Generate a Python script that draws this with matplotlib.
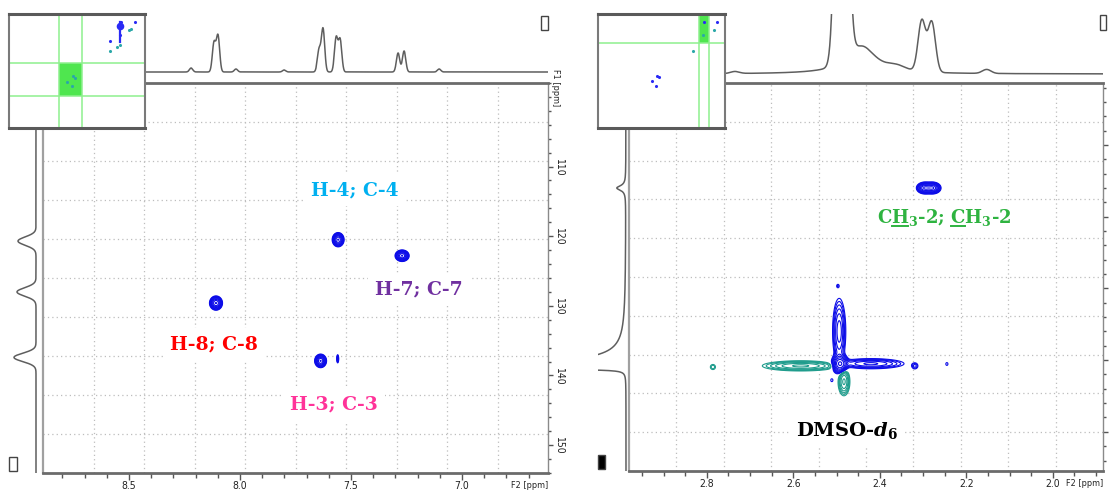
import numpy as np
import matplotlib
matplotlib.use('Agg')
import matplotlib.pyplot as plt
from matplotlib.patches import Rectangle
from matplotlib.lines import Line2D
from matplotlib.transforms import IdentityTransform
from matplotlib.ticker import MultipleLocator
from matplotlib import font_manager as fm

# ── Data: left panel (aromatic HSQC region) ──
left_f2_lim = (8.887, 6.613)
left_f1_lim = (154.0, 98.0)
left_f2_ticks = [8.5, 8.0, 7.5, 7.0]
left_f1_ticks = [110, 120, 130, 140, 150]

# cross peaks: 1H ppm, 13C ppm, amplitude, widths
arom_h = [7.558, 7.270, 8.108, 7.637, 7.560]
arom_c = [120.5, 122.8, 129.6, 137.9, 137.6]
arom_amp = [1.0, 1.0, 1.0, 1.0, 0.15]
arom_wh = [0.011, 0.013, 0.012, 0.011, 0.003]
arom_wc = [0.42, 0.34, 0.42, 0.40, 0.40]

arom_labels = ['H-4; C-4', 'H-7; C-7', 'H-8; C-8', 'H-3; C-3']
arom_label_h = [7.482, 7.193, 8.117, 7.576]
arom_label_c = [113.4, 127.7, 135.5, 144.2]
arom_label_colors = ['#00B0F0', '#7030A0', '#FF0000', '#FF3399']

# 1H trace above, 13C trace at the side
left_top_ppm = [8.117, 8.099, 7.644, 7.626, 7.567, 7.549, 7.288, 7.261, 8.220, 8.018, 7.801, 7.103]
left_top_int = [29, 36, 22, 43, 34, 32, 19, 21, 4, 3, 2, 3]
left_top_w = 0.0075
left_side_ppm = [120.7, 128.0, 137.4]
left_side_int = [18, 19, 22]
left_side_w = 0.6

# overview thumbnail
left_thumb_f2 = (13.84, 0.39)
left_thumb_f1 = (208.5, 14.7)
left_thumb_blue_h = [2.76, 1.38, 3.85, 2.86]
left_thumb_blue_c = [28.3, 28.3, 60.6, 50.4]
left_thumb_teal_h = [1.97, 1.77, 3.16, 2.86, 3.85]
left_thumb_teal_c = [41.9, 40.2, 70.8, 67.4, 77.6]
left_thumb_streak = (2.86, 28.3, 62.3)

# ── Data: right panel (aliphatic region) ──
right_f2_lim = (2.980, 1.884)
right_f1_lim = (47.73, 20.68)
right_f2_ticks = [2.8, 2.6, 2.4, 2.2, 2.0]
right_f1_ticks = [25, 30, 35, 40, 45]

ali_h = [2.296, 2.278, 2.492, 2.421, 2.494, 2.319, 2.245, 2.497, 2.511, 2.583, 2.483, 2.786]
ali_c = [28.0, 28.0, 40.27, 40.25, 38.0, 40.41, 40.27, 34.83, 41.4, 40.4, 41.5, 40.48]
ali_amp = [1, 1, 1, 0.35, 0.4, 0.12, 0.07, 0.07, 0.07, -0.35, -0.35, -0.1]
ali_wh = [0.008, 0.008, 0.0085, 0.039, 0.0075, 0.005, 0.003, 0.003, 0.003, 0.045, 0.007, 0.005]
ali_wc = [0.17, 0.17, 0.30, 0.18, 1.13, 0.15, 0.12, 0.12, 0.12, 0.18, 0.50, 0.15]

right_top_g_ppm = [2.488, 2.303, 2.280, 2.153, 2.735, 2.360]
right_top_g_int = [565, 51, 50, 4, 2, 4]
right_top_g_w = [0.0109, 0.0086, 0.0086, 0.01, 0.01, 0.02]
right_top_l_ppm = [2.442]
right_top_l_int = [28]
right_top_l_w = [0.0416]
right_side_ppm = [28.0, 40.6]
right_side_int = [9, 200]
right_side_w_lo = [0.2, 0.4]
right_side_w_hi = [0.2, 0.04]

right_thumb_f2 = (13.95, 0.15)
right_thumb_f1 = (127.2, 20.68)
right_thumb_blue_h = [1.02, 2.43, 7.53, 7.32, 8.08, 7.64]
right_thumb_blue_c = [28.2, 28.2, 78.6, 79.5, 83.3, 87.9]
right_thumb_teal_h = [1.35, 2.54, 3.63]
right_thumb_teal_c = [35.6, 40.3, 55.2]

# ── Style ──
BLUE = '#0C0CE8'
TEAL = '#1E9C8C'
GRID = '#BDBDBD'
TRACE = '#5E5E5E'
FRAME = '#6B6B6B'
GREEN_FILL = '#4FE64F'
GREEN_LINE = '#8EF08E'
ME_GREEN = '#2EB340'

# narrow sans axis font if one is installed
narrow = None
rank = ['liberationsansnarrow', 'dejavusanscondensed', 'robotocondensed', 'opensans_condensed']
best = len(rank)
for f in fm.fontManager.ttflist:
    n = f.fname.lower().replace('-', '').replace(' ', '')
    if any(k in n for k in ('bold', 'italic', 'light', 'oblique', 'thin', 'medium', 'semi', 'black')):
        continue
    for i, key in enumerate(rank):
        if key in n and i < best:
            best, narrow = i, f.fname
if narrow:
    TICKFP = fm.FontProperties(fname=narrow, size=7.5)
else:
    TICKFP = fm.FontProperties(family='Liberation Sans', size=7)
F2FP = TICKFP.copy()
F2FP.set_size(6.5)

plt.rcParams['mathtext.fontset'] = 'custom'
plt.rcParams['mathtext.rm'] = 'DejaVu Serif:bold'
plt.rcParams['mathtext.it'] = 'DejaVu Serif:italic:bold'
plt.rcParams['mathtext.bf'] = 'DejaVu Serif:bold'

W, H = 1111, 497
fig = plt.figure(figsize=(W / 100, H / 100), dpi=100)


def frac(x0, y0, x1, y1):
    return [x0 / W, 1 - y1 / H, (x1 - x0) / W, (y1 - y0) / H]


def trace(axis, centers, heights, w_lo, w_hi, kind):
    out = np.zeros_like(axis)
    for c, h, wl, wh in zip(centers, heights, w_lo, w_hi):
        w = np.where(axis < c, wl, wh)
        d = (axis - c) / w
        out += h * (np.exp(-0.5 * d ** 2) if kind == 'g' else 1 / (1 + d ** 2))
    return out


def plane(ax, xlim, ylim, hs, cs, amps, whs, wcs):
    x = np.linspace(min(xlim), max(xlim), 1100)
    y = np.linspace(min(ylim), max(ylim), 900)
    X, Y = np.meshgrid(x, y)
    Z = np.zeros_like(X)
    for h, c, a, wh, wc in zip(hs, cs, amps, whs, wcs):
        Z += a * np.exp(-0.5 * ((X - h) / wh) ** 2 - 0.5 * ((Y - c) / wc) ** 2)
    levels = 0.05 * 1.45 ** np.arange(9)
    ax.contour(X, Y, Z, levels=levels, colors=BLUE, linewidths=0.8, zorder=2)
    if (Z < -levels[0]).any():
        ax.contour(X, Y, -Z, levels=levels, colors=TEAL, linewidths=0.8, zorder=2)


def style_main(ax, xlim, ylim, xticks, xminor, yticks, yminor, ylabels):
    ax.set_xlim(xlim)
    ax.set_ylim(ylim)
    for f in np.arange(1, 10) / 10:
        ax.plot([f, f], [0, 1], transform=ax.transAxes, color=GRID, lw=0.9,
                ls=(0, (1, 2.5)), zorder=0)
        ax.plot([0, 1], [f, f], transform=ax.transAxes, color=GRID, lw=0.9,
                ls=(0, (1, 2.5)), zorder=0)
    ax.spines['top'].set(color=FRAME, lw=2)
    ax.spines['bottom'].set(color=FRAME, lw=2)
    ax.spines['left'].set(color='#A0A0A0', lw=1.6)
    ax.spines['right'].set(color='#8A8A8A', lw=1)
    ax.set_xticks(xticks, [f'{t:.1f}' for t in xticks], fontproperties=TICKFP, color='#222222')
    ax.xaxis.set_minor_locator(MultipleLocator(xminor))
    ax.tick_params(axis='x', which='major', direction='out', length=5, width=1, color='#555555', pad=0.5)
    ax.tick_params(axis='x', which='minor', direction='out', length=3.5, width=1, color='#555555')
    ax.yaxis.tick_right()
    if ylabels:
        ax.set_yticks(yticks, [str(t) for t in yticks], rotation=-90, va='center',
                      fontproperties=TICKFP, color='#222222')
    else:
        ax.set_yticks(yticks, [])
    ax.yaxis.set_minor_locator(MultipleLocator(yminor))
    ax.tick_params(axis='y', which='major', direction='out', length=3.5, width=1, color='#555555', pad=0.5)
    ax.tick_params(axis='y', which='minor', direction='out', length=2.2, width=1, color='#555555')
    ax.text(1.0, -0.031, 'F2 [ppm]', transform=ax.transAxes, ha='right', va='center',
            fontproperties=F2FP, color='#222222')


def thumb(ax, xlim, ylim, main_x, main_y, bh, bc, th, tc):
    ax.set_xlim(xlim)
    ax.set_ylim(ylim)
    ax.set_xticks([])
    ax.set_yticks([])
    for s in ax.spines.values():
        s.set(color='#7A7A7A', lw=1.5)
    ax.spines['top'].set(color='#5A5A5A', lw=2.2)
    ax.spines['bottom'].set(color='#5A5A5A', lw=2.2)
    ax.add_patch(Rectangle((min(main_x), min(main_y)), abs(main_x[1] - main_x[0]),
                           abs(main_y[1] - main_y[0]), fc=GREEN_FILL, ec='none', zorder=1))
    for v in main_x:
        ax.axvline(v, color=GREEN_LINE, lw=1.1, zorder=2)
    for v in main_y:
        ax.axhline(v, color=GREEN_LINE, lw=1.1, zorder=2)
    ax.scatter(bh, bc, s=5, color='#2A2AF5', lw=0, zorder=3)
    ax.scatter(th, tc, s=5, color='#2AA8A8', lw=0, zorder=3)


def icon(x0, y0, x1, y1, filled=False):
    fig.add_artist(Rectangle((x0 / W, 1 - y1 / H), (x1 - x0) / W, (y1 - y0) / H,
                             transform=fig.transFigure, fill=filled,
                             fc='black', ec='#444444', lw=1))


def underline(txt, parts, color):
    # parts: list of (prefix, chars) -> underline `chars` that follow `prefix`
    r = fig.canvas.get_renderer()
    prop = txt.get_fontproperties()

    def width(s):
        return r.get_text_width_height_descent(s, prop, ismath=('$' in s))[0]

    full = txt.get_text()
    bb = txt.get_window_extent(r)
    d = r.get_text_width_height_descent(full, prop, ismath=True)[2]
    y = bb.y0 + d - 2.5
    for prefix, ch in parts:
        x0 = bb.x0 + (width(prefix + 'C') - width('C') if prefix else 0)
        x1 = x0 + width(ch)
        fig.add_artist(Line2D([x0 + 0.5, x1 - 0.5], [y, y], transform=IdentityTransform(),
                              color=color, lw=1.4, zorder=5))


# ── Left panel ──
axL = fig.add_axes(frac(43, 83, 548, 473))
style_main(axL, left_f2_lim, left_f1_lim, left_f2_ticks, 0.1, left_f1_ticks, 2, True)
plane(axL, left_f2_lim, left_f1_lim, arom_h, arom_c, arom_amp, arom_wh, arom_wc)
axL.text(1.014, 98.7, 'F1 [ppm]', transform=axL.get_yaxis_transform(), rotation=-90,
         ha='center', va='center', fontproperties=F2FP, color='#222222', clip_on=False)
for s, h, c, col in zip(arom_labels, arom_label_h, arom_label_c, arom_label_colors):
    axL.text(h, c, s, color=col, fontsize=13.5, fontweight='bold', family='DejaVu Serif',
             ha='center', va='center', zorder=4,
             bbox=dict(facecolor='white', edgecolor='none', pad=5))

topL = fig.add_axes(frac(43, 0, 548, 83))
xs = np.linspace(min(left_f2_lim), max(left_f2_lim), 3000)
w = [left_top_w] * len(left_top_ppm)
topL.plot(xs, trace(xs, left_top_ppm, left_top_int, w, w, 'g'), color=TRACE, lw=1.1)
topL.set_xlim(left_f2_lim)
topL.set_ylim(-11, 72)
topL.axis('off')

sideL = fig.add_axes(frac(0, 83, 43, 473))
ys = np.linspace(min(left_f1_lim), max(left_f1_lim), 2000)
w = [left_side_w] * len(left_side_ppm)
sideL.plot(trace(ys, left_side_ppm, left_side_int, w, w, 'g'), ys, color=TRACE, lw=1.1)
sideL.set_ylim(left_f1_lim)
sideL.set_xlim(36, -7)
sideL.axis('off')

thL = fig.add_axes(frac(9, 14, 145, 128))
thumb(thL, left_thumb_f2, left_thumb_f1, left_f2_lim, left_f1_lim,
      left_thumb_blue_h, left_thumb_blue_c, left_thumb_teal_h, left_thumb_teal_c)
thL.scatter(arom_h[:4], arom_c[:4], s=5, color='#2AA8A8', lw=0, zorder=3)
thL.plot([left_thumb_streak[0]] * 2, left_thumb_streak[1:], color='#2A2AF5', lw=1.6, zorder=3)
thL.scatter([left_thumb_streak[0]], [left_thumb_streak[1] + 6], s=30, color='#2A2AF5', lw=0, zorder=3)

icon(541, 16, 548, 30)
icon(9, 457, 17, 471)

# ── Right panel ──
axR = fig.add_axes(frac(629, 83, 1103, 471))
style_main(axR, right_f2_lim, right_f1_lim, right_f2_ticks, 0.05, right_f1_ticks, 1, False)
plane(axR, right_f2_lim, right_f1_lim, ali_h, ali_c, ali_amp, ali_wh, ali_wc)
me_label = r'CH$_{\mathrm{3}}$-2; CH$_{\mathrm{3}}$-2'
me_txt = axR.text(2.252, 30.09, me_label, color=ME_GREEN, fontsize=13, fontweight='bold',
                  family='DejaVu Serif', ha='center', va='center', zorder=4,
                  bbox=dict(facecolor='white', edgecolor='none', pad=5))
axR.text(2.476, 44.94, r'DMSO-$\mathit{d}_{\mathit{6}}$', color='black', fontsize=14,
         fontweight='bold', family='DejaVu Serif', ha='center', va='center', zorder=4,
         bbox=dict(facecolor='white', edgecolor='none', pad=5))

topR = fig.add_axes(frac(629, 14, 1103, 83))
xs = np.linspace(min(right_f2_lim), max(right_f2_lim), 3000)
spec = trace(xs, right_top_g_ppm, right_top_g_int, right_top_g_w, right_top_g_w, 'g') + \
    trace(xs, right_top_l_ppm, right_top_l_int, right_top_l_w, right_top_l_w, 'l')
topR.plot(xs, spec, color=TRACE, lw=1.1)
topR.set_xlim(right_f2_lim)
topR.set_ylim(-9, 60)
topR.axis('off')

sideR = fig.add_axes(frac(598, 83, 629, 471))
ys = np.linspace(min(right_f1_lim), max(right_f1_lim), 3000)
sideR.plot(trace(ys, right_side_ppm, right_side_int, right_side_w_lo, right_side_w_hi, 'l'), ys,
           color=TRACE, lw=1.1)
sideR.set_ylim(right_f1_lim)
sideR.set_xlim(28, -3)
sideR.axis('off')

thR = fig.add_axes(frac(598, 14, 725, 128))
thumb(thR, right_thumb_f2, right_thumb_f1, right_f2_lim, right_f1_lim,
      right_thumb_blue_h, right_thumb_blue_c, right_thumb_teal_h, right_thumb_teal_c)

icon(1100, 15, 1106, 30)
icon(598, 455, 605, 469, filled=True)

# underline H in the first CH3 and C in the second
fig.canvas.draw()
underline(me_txt, [('C', 'H'), (r'CH$_{\mathrm{3}}$-2; ', 'C')], ME_GREEN)

fig.savefig('out.png', dpi=100, facecolor='white')
